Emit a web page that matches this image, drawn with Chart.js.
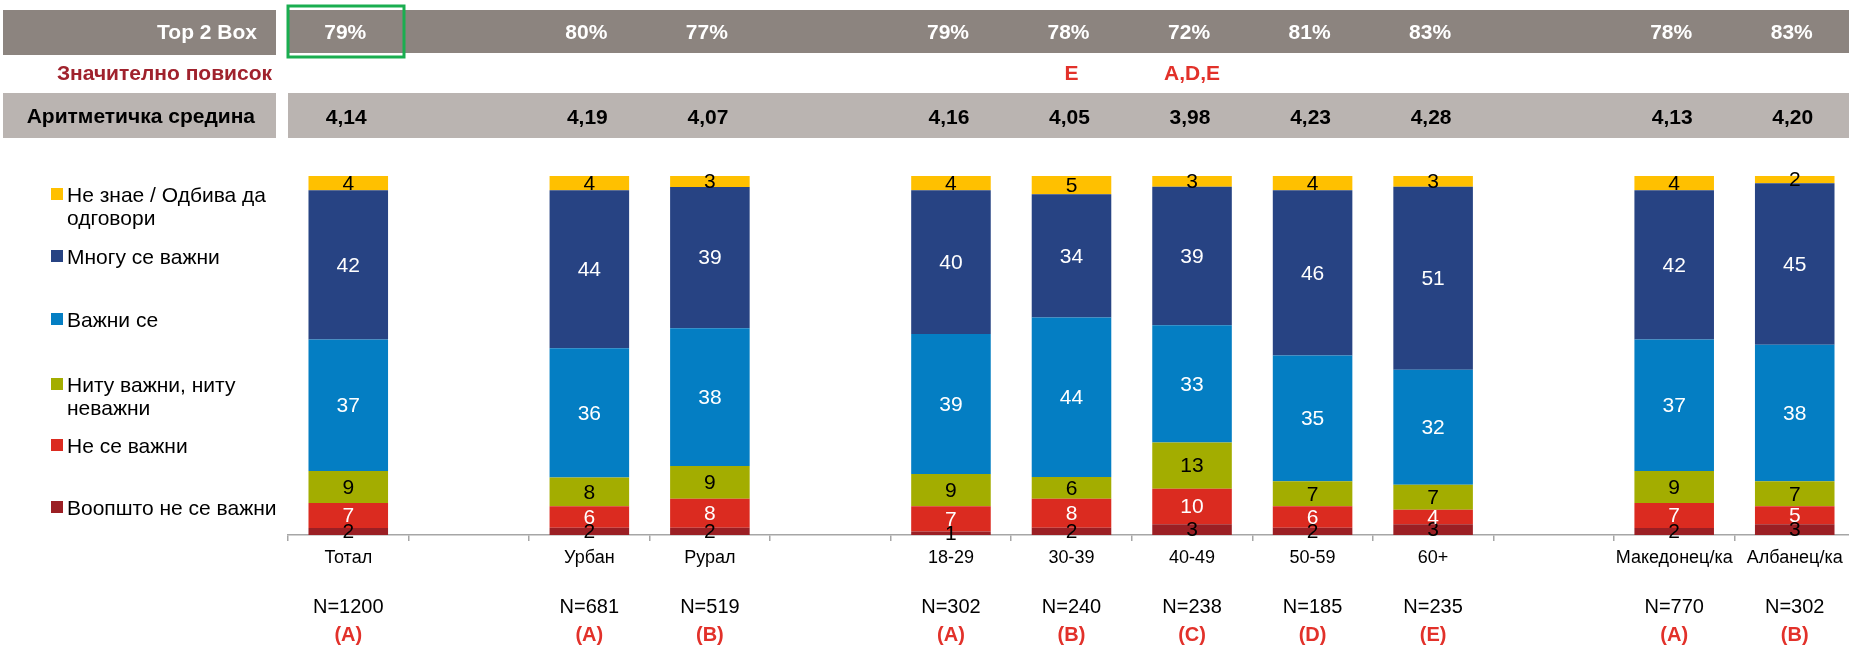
<!DOCTYPE html>
<html lang="mk">
<head>
<meta charset="UTF-8" />
<title>Важност – Top 2 Box</title>
<style>
  html, body { margin: 0; padding: 0; background: #fff; overflow: hidden; }
  #wrap { position: relative; width: 1860px; height: 646px; }
</style>
<script src="https://cdn.jsdelivr.net/npm/chart.js"></script>
</head>
<body>
<div id="wrap"><canvas id="chart" width="1860" height="646"></canvas></div>
<script>
  // categories (empty slots are the gaps between the groups)
  const categories  = ['Тотал', '', 'Урбан', 'Рурал', '', '18-29', '30-39', '40-49', '50-59', '60+', '', 'Македонец/ка', 'Албанец/ка'];
  const sampleN     = ['N=1200', '', 'N=681', 'N=519', '', 'N=302', 'N=240', 'N=238', 'N=185', 'N=235', '', 'N=770', 'N=302'];
  const groupLetter = ['(A)', '', '(A)', '(B)', '', '(A)', '(B)', '(C)', '(D)', '(E)', '', '(A)', '(B)'];
  const top2Box     = ['79%', '', '80%', '77%', '', '79%', '78%', '72%', '81%', '83%', '', '78%', '83%'];
  const signHigher  = ['', '', '', '', '', '', 'E', 'A,D,E', '', '', '', '', ''];
  const meanScore   = ['4,14', '', '4,19', '4,07', '', '4,16', '4,05', '3,98', '4,23', '4,28', '', '4,13', '4,20'];

  // series, bottom to top
  const notAtAll  = [2, null, 2, 2, null, 1, 2, 3, 2, 3, null, 2, 3];
  const notImp    = [7, null, 6, 8, null, 7, 8, 10, 6, 4, null, 7, 5];
  const neither   = [9, null, 8, 9, null, 9, 6, 13, 7, 7, null, 9, 7];
  const important = [37, null, 36, 38, null, 39, 44, 33, 35, 32, null, 37, 38];
  const veryImp   = [42, null, 44, 39, null, 40, 34, 39, 46, 51, null, 42, 45];
  const dontKnow  = [4, null, 4, 3, null, 4, 5, 3, 4, 3, null, 4, 2];

  const FONT = "'Liberation Sans', Arial, sans-serif";

  const series = [
    { name: 'Воопшто не се важни', values: notAtAll, color: '#9b1f24', text: '#000' },
    { name: 'Не се важни', values: notImp, color: '#db2b20', text: '#fff' },
    { name: 'Ниту важни, ниту неважни', values: neither, color: '#a3ad00', text: '#000' },
    { name: 'Важни се', values: important, color: '#047ec3', text: '#fff' },
    { name: 'Многу се важни', values: veryImp, color: '#274383', text: '#fff' },
    { name: 'Не знае / Одбива да одговори', values: dontKnow, color: '#ffc000', text: '#000' }
  ];

  // 100% stacked, like the original
  const totals = categories.map((_, i) => series.reduce((s, d) => s + (d.values[i] || 0), 0));

  // legend lines (top to bottom) with their vertical centers
  const legendRows = [
    { color: '#ffc000', lines: ['Не знае / Одбива да', 'одговори'], y: 195 },
    { color: '#274383', lines: ['Многу се важни'], y: 257 },
    { color: '#047ec3', lines: ['Важни се'], y: 320 },
    { color: '#a3ad00', lines: ['Ниту важни, ниту', 'неважни'], y: 385 },
    { color: '#db2b20', lines: ['Не се важни'], y: 446 },
    { color: '#9b1f24', lines: ['Воопшто не се важни'], y: 508 }
  ];

  const segmentLabels = {
    id: 'segmentLabels',
    afterDatasetsDraw(chart) {
      const ctx = chart.ctx;
      ctx.save();
      ctx.font = '21px ' + FONT;
      ctx.textAlign = 'center';
      ctx.textBaseline = 'middle';
      chart.data.datasets.forEach((ds, di) => {
        chart.getDatasetMeta(di).data.forEach((el, i) => {
          const v = ds.raw[i];
          if (v == null) return;
          ctx.fillStyle = ds.labelColor;
          ctx.fillText(String(v), el.x, (el.y + el.base) / 2 + 1);
        });
      });
      ctx.restore();
    }
  };

  const tableRows = {
    id: 'tableRows',
    afterDraw(chart) {
      const ctx = chart.ctx;
      const xs = chart.scales.x;
      ctx.save();

      // Top 2 Box band
      ctx.fillStyle = '#8c847f';
      ctx.fillRect(3, 10, 273, 45);
      ctx.fillRect(288, 10, 1580, 43);
      // Аритметичка средина band
      ctx.fillStyle = '#bab4b1';
      ctx.fillRect(3, 93, 273, 45);
      ctx.fillRect(288, 93, 1580, 45);

      ctx.textBaseline = 'middle';
      ctx.font = 'bold 21px ' + FONT;
      ctx.textAlign = 'right';
      ctx.fillStyle = '#fff';
      ctx.fillText('Top 2 Box', 257, 33);
      ctx.fillStyle = '#a0222d';
      ctx.fillText('Значително повисок', 272, 74);
      ctx.fillStyle = '#000';
      ctx.fillText('Аритметичка средина', 255, 117);

      ctx.textAlign = 'center';
      categories.forEach((c, i) => {
        const x = xs.getPixelForValue(i);
        ctx.font = 'bold 21px ' + FONT;
        ctx.fillStyle = '#fff';
        ctx.fillText(top2Box[i], x - 3, 33);
        ctx.fillStyle = '#e2312a';
        ctx.fillText(signHigher[i], x, 74);
        ctx.fillStyle = '#000';
        ctx.fillText(meanScore[i], x - 2, 118);

        ctx.font = '20px ' + FONT;
        ctx.fillStyle = '#000';
        ctx.fillText(sampleN[i], x, 607);
        ctx.font = 'bold 20px ' + FONT;
        ctx.fillStyle = '#e2312a';
        ctx.fillText(groupLetter[i], x, 635);
      });

      // green highlight round the Total value
      ctx.strokeStyle = '#1aae50';
      ctx.lineWidth = 3;
      ctx.strokeRect(288, 6, 116, 51);

      // legend
      ctx.textAlign = 'left';
      ctx.font = '21px ' + FONT;
      legendRows.forEach(r => {
        ctx.fillStyle = r.color;
        ctx.fillRect(51, r.y - 7, 12, 12);
        ctx.fillStyle = '#000';
        r.lines.forEach((t, k) => ctx.fillText(t, 67, r.y + 1 + k * 23));
      });
      ctx.restore();
    }
  };

  new Chart(document.getElementById('chart'), {
    type: 'bar',
    data: {
      labels: categories,
      datasets: series.map(s => ({
        label: s.name,
        data: s.values.map((v, i) => v == null ? null : v / totals[i] * 100),
        raw: s.values,
        labelColor: s.text,
        backgroundColor: s.color,
        borderWidth: 0,
        barPercentage: 0.66,
        categoryPercentage: 1
      }))
    },
    options: {
      responsive: false,
      animation: false,
      layout: { padding: { left: 288, right: 5, top: 176, bottom: 0 } },
      plugins: { legend: { display: false }, tooltip: { enabled: false } },
      scales: {
        x: {
          stacked: true,
          afterFit(scale) { scale.height = 111; },
          grid: { drawOnChartArea: false, drawTicks: true, tickLength: 6, color: '#a6a6a6', lineWidth: 1.5, offset: true },
          border: { display: true, color: '#a6a6a6', width: 1.5 },
          ticks: { autoSkip: false, maxRotation: 0, padding: 6, color: '#000', font: { family: FONT, size: 18 } }
        },
        y: { stacked: true, display: false, min: 0, max: 100 }
      }
    },
    plugins: [segmentLabels, tableRows]
  });
</script>
</body>
</html>
